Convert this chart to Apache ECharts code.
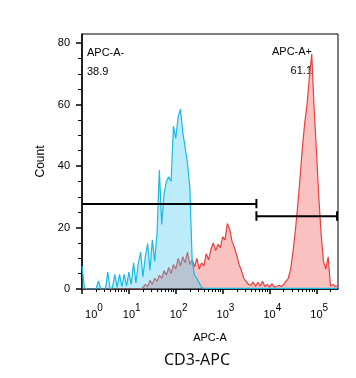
<!DOCTYPE html>
<html>
<head>
<meta charset="utf-8">
<script src="https://cdn.jsdelivr.net/npm/echarts@6/dist/echarts.min.js"></script>
<style>html,body{margin:0;padding:0;background:#fff}#c{width:356px;height:378px}</style>
</head>
<body>
<div id="c"></div>
<script>
// Histogram bins along the APC-A axis, in decades (log10 of intensity)
const binWidth = 0.05;
// Counts (blue = control, red = CD3-APC stained)
const blueCounts = [
7.5,0.5,0,0,0,0,0,2.6,0,0,
0,5.5,0,0.5,4.8,0.5,4.8,0.8,4.8,1,
5.5,1.5,8.5,2,8.3,12,4,10.5,14.8,6,
16,9,18,38.7,21,31,35,36.5,35,53,
49,56,58.5,51,46,41,33,9,4.5,3.5,
2,0.5,0.3,0.2,0.2,0.2,0.2,0.2,0.2,0.2,
0.2,0.2,0.2,0.2,0.2,0.2,0.2,0.2,0.2,0.2,
0.2,0.2,0.2,0.2,0.2,0.2,0.2,0.2,0.2,0.2,
0.2,0.2,0.2,0.2,0.2,0.2,0.2,0.2,0.2,0.2,
0.2,0.2,0.2,0.2,0.2,0.2,0.2,0.2,0.2,0.2,
0.2,0.2,0.2,0.2,0.2,0.2,0.2,0.2,0.2,0.2
];
const redCounts = [
0,0,0,0,0,0,0,0,0,0,
0,0,0,0,0,0,0,0,0,0,
0,0,0,0,0,0,0.5,1.5,0.8,2.8,
1.5,3.5,2.5,4.5,3.5,6,4.5,7,5,8,
6.5,10,7.5,10.5,8.5,12,8,9.5,7.2,10,
6.5,8.5,7.5,11.5,9.5,13,15,12.5,14.5,13.5,
17,16,21.3,19.5,15.5,13.5,11,8,6,3.5,
2.5,1.5,1.2,2.3,0.8,2.2,1,2.5,0.8,1.5,
0.6,1.8,0.6,0.8,1.2,0.8,1.5,2.5,3.5,6.5,
12,19,27,36,46,54,60,69,76.5,59,
45,30,18,9,6.5,10.5,1,1.5,0.8,1
];
const xDecades = [0,1,2,3,4,5];
const yTicks = [0,20,40,60,80];
const yMinorTicks = [5,10,15,25,30,35,45,50,55,65,70,75];
// Gates: APC-A- and APC-A+
const gateSplit = 3.72;
const gateNegY = 27.7, gatePosY = 23.7;
const gateNeg = [[0,gateNegY],[gateSplit,gateNegY],'-',[gateSplit,26.3],[gateSplit,29.3]];
const gatePos = [[gateSplit,gatePosY],[5.44,gatePosY],'-',[gateSplit,22.2],[gateSplit,25.3],'-',[5.44,22.2],[5.44,25.3]];
const gateLabels = [['APC-A-','38.9'],['APC-A+','61.1']];

const xMin = 0, xMax = 5.46, yMin = 0, yMax = 83;
const xMinor = [];
xDecades.forEach(d => { for (let k = 2; k <= 9; k++) { const v = d + Math.log10(k); if (v < xMax) xMinor.push(v); } });
const toPts = arr => arr.map((v,i)=>[i*binWidth, v]);

const FONT = '"Liberation Sans", Arial, sans-serif';
const chart = echarts.init(document.getElementById('c'), null, {renderer:'canvas'});
chart.setOption({
  animation:false,
  backgroundColor:'#fff',
  grid:{left:82, top:34, width:256, height:255, show:true, borderColor:'#000', borderWidth:1, backgroundColor:'transparent'},
  xAxis:[{
    type:'value', min:xMin, max:xMax, position:'bottom',
    axisLine:{show:true, onZero:false, lineStyle:{color:'#000', width:1.5}},
    axisTick:{show:true, customValues:xDecades, length:5, lineStyle:{color:'#000', width:1.5}},
    axisLabel:{show:true, customValues:xDecades, margin:14, color:'#000',
      formatter: v => (v===0 ? '{p0| }' : '{p| }') + '{b|10}{s|' + v + '}',
      rich:{
        p0:{width:24, lineHeight:17},
        p:{width:5.6, lineHeight:17},
        b:{fontSize:11, fontFamily:FONT, lineHeight:12, verticalAlign:'bottom', color:'#000'},
        s:{fontSize:10, fontFamily:FONT, lineHeight:10, verticalAlign:'top', color:'#000'}
      }},
    splitLine:{show:false},
    name:'APC-A', nameLocation:'middle', nameGap:43,
    nameTextStyle:{fontSize:11, fontFamily:FONT, color:'#000'}
  },{
    type:'value', min:xMin, max:xMax, position:'bottom',
    axisLine:{show:false},
    axisTick:{show:true, customValues:xMinor, length:3, lineStyle:{color:'#000', width:1}},
    axisLabel:{show:false}, splitLine:{show:false}
  }],
  yAxis:[{
    type:'value', min:yMin, max:yMax, interval:20, position:'left',
    axisLine:{show:true, onZero:false, lineStyle:{color:'#000', width:1.5}},
    axisTick:{show:true, customValues:yTicks, length:6, lineStyle:{color:'#000', width:1.5}},
    axisLabel:{show:true, customValues:yTicks, margin:12, fontSize:11, fontFamily:FONT, color:'#000'},
    splitLine:{show:false},
    name:'Count', nameLocation:'middle', nameGap:34,
    nameTextStyle:{fontSize:12, fontFamily:FONT, color:'#000'}
  },{
    type:'value', min:yMin, max:yMax, position:'left',
    axisLine:{show:false},
    axisTick:{show:true, customValues:yMinorTicks, length:4, lineStyle:{color:'#000', width:1}},
    axisLabel:{show:false}, splitLine:{show:false}
  }],
  series:[
    {type:'line', name:'CD3-APC', data:toPts(redCounts), xAxisIndex:0, yAxisIndex:0,
      symbol:'none', lineStyle:{color:'#e8403f', width:1.2},
      areaStyle:{color:'rgba(242,78,78,0.5)', origin:'start'}, z:2},
    {type:'line', name:'Control', data:toPts(blueCounts), xAxisIndex:0, yAxisIndex:0,
      symbol:'none', lineStyle:{color:'#1cb8e6', width:1.2},
      areaStyle:{color:'rgba(64,200,240,0.5)', origin:'start'}, z:3},
    {type:'line', data:gateNeg, xAxisIndex:0, yAxisIndex:0, symbol:'none',
      lineStyle:{color:'#000', width:2}, z:5, connectNulls:false},
    {type:'line', data:gatePos, xAxisIndex:0, yAxisIndex:0, symbol:'none',
      lineStyle:{color:'#000', width:2}, z:5, connectNulls:false}
  ],
  graphic:[
    {type:'text', x:87, y:53, style:{text:gateLabels[0][0], font:'11px '+FONT, fill:'#000', textAlign:'left', textVerticalAlign:'middle'}},
    {type:'text', x:87, y:72, style:{text:gateLabels[0][1], font:'11px '+FONT, fill:'#000', textAlign:'left', textVerticalAlign:'middle'}},
    {type:'text', x:312, y:52, style:{text:gateLabels[1][0], font:'11px '+FONT, fill:'#000', textAlign:'right', textVerticalAlign:'middle'}},
    {type:'text', x:312, y:71, style:{text:gateLabels[1][1], font:'11px '+FONT, fill:'#000', textAlign:'right', textVerticalAlign:'middle'}},
    {type:'text', x:197, y:360, style:{text:'CD3-APC', font:'16px "Noto Sans", sans-serif', fill:'#111', textAlign:'center', textVerticalAlign:'middle'}}
  ]
});
</script>
</body>
</html>
